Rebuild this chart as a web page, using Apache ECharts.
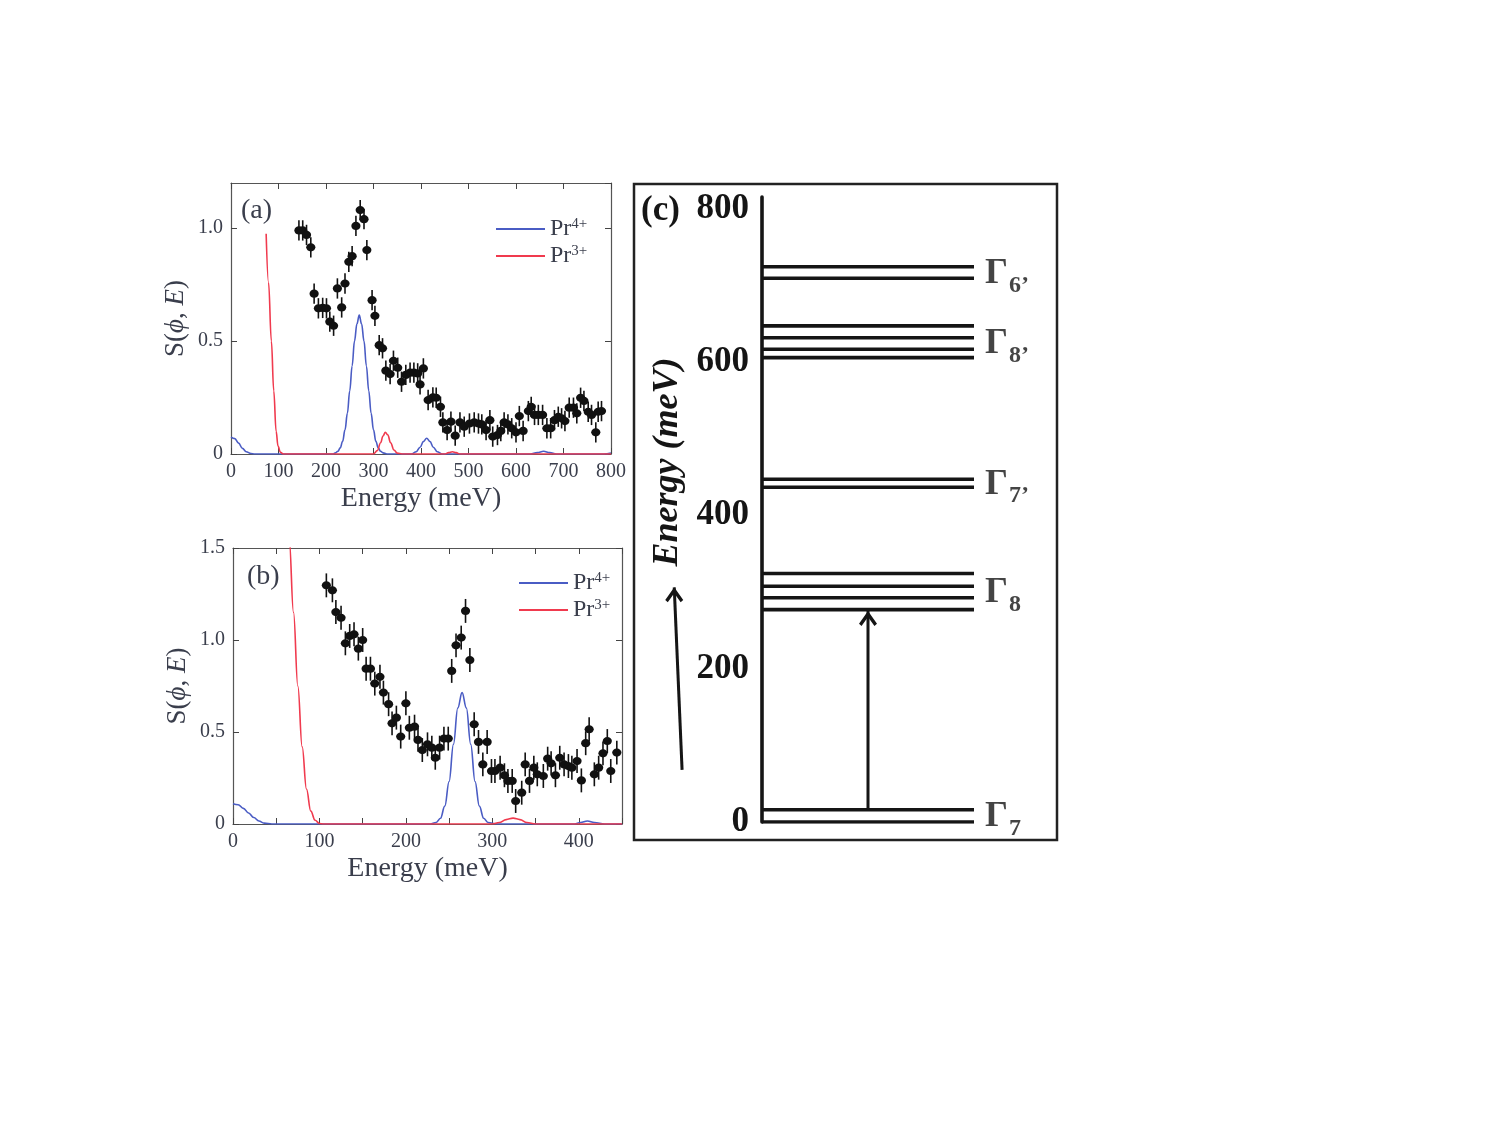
<!DOCTYPE html>
<html>
<head>
<meta charset="utf-8">
<script src="https://cdn.jsdelivr.net/npm/echarts@6/dist/echarts.min.js"></script>
<style>
html, body { margin: 0; background: #fff; }
#main { width: 1500px; height: 1125px; }
</style>
</head>
<body>
<div id="main"></div>
<script>
// ---- panel (a): measured points [energy meV, S] ----
var pointsA = [
  [143,0.99],[151,0.99],[159,0.97],[168,0.915],[175,0.71],[184,0.645],[193,0.647],[201,0.645],
  [208,0.586],[216,0.568],[224,0.733],[233,0.649],[240,0.755],[248,0.851],[255,0.876],[263,1.01],
  [272,1.08],[280,1.04],[286,0.903],[297,0.681],[303,0.612],[312,0.482],[319,0.468],[326,0.369],
  [335,0.354],[342,0.413],[351,0.382],[359,0.32],[368,0.35],[377,0.36],[385,0.36],[393,0.357],
  [398,0.308],[405,0.379],[415,0.239],[425,0.251],[432,0.249],[441,0.209],[446,0.14],[455,0.106],
  [463,0.143],[472,0.081],[482,0.14],[491,0.121],[502,0.135],[512,0.14],[521,0.135],[528,0.131],
  [537,0.106],[545,0.15],[551,0.077],[561,0.084],[568,0.102],[575,0.14],[583,0.131],[591,0.114],
  [600,0.096],[607,0.168],[615,0.102],[626,0.19],[632,0.209],[639,0.173],[647,0.173],[656,0.173],
  [665,0.114],[673,0.114],[681,0.15],[689,0.165],[696,0.158],[703,0.146],[712,0.205],[721,0.205],
  [728,0.18],[736,0.249],[743,0.235],[752,0.187],[759,0.173],[768,0.096],[773,0.187],[780,0.19]
];
var errA = 0.045;
var pr4A = [
  [0,0.075],[8,0.068],[16,0.048],[24,0.025],[32,0.01],[42,0.002],[50,0],[215,0],[220,0.005],
  [225,0.012],[230,0.027],[235,0.056],[240,0.107],[245,0.18],[250,0.28],[255,0.39],[260,0.5],
  [265,0.575],[270,0.615],[275,0.575],[280,0.5],[285,0.39],[290,0.28],[295,0.18],[300,0.107],
  [305,0.056],[310,0.027],[315,0.012],[320,0.005],[330,0],[380,0],[390,0.01],[398,0.03],
  [405,0.055],[412,0.07],[419,0.055],[426,0.03],[434,0.01],[445,0],[630,0],[645,0.006],
  [658,0.012],[671,0.006],[685,0],[785,0],[800,0.004]
];
var pr3A = [
  [74,0.975],[79,0.76],[85,0.5],[90,0.28],[95,0.1],[99,0.035],[104,0.008],[110,0],[300,0],
  [308,0.015],[315,0.05],[320,0.08],[325,0.096],[330,0.085],[336,0.05],[343,0.018],[350,0.004],
  [360,0],[450,0],[458,0.006],[466,0.01],[474,0.006],[482,0],[800,0]
];

// ---- panel (b) ----
var pointsB = [
  [108,1.297],[115,1.27],[119,1.152],[125,1.121],[130,0.982],[135,1.022],[140,1.031],[145,0.953],
  [150,1.0],[154,0.844],[159,0.844],[164,0.763],[170,0.8],[174,0.714],[180,0.651],[184,0.547],
  [189,0.578],[194,0.475],[200,0.656],[204,0.523],[210,0.529],[214,0.457],[219,0.402],[225,0.433],
  [230,0.415],[234,0.36],[239,0.415],[244,0.464],[249,0.464],[253,0.832],[258,0.971],[264,1.013],
  [269,1.158],[274,0.891],[279,0.542],[284,0.446],[289,0.324],[294,0.446],[299,0.288],[303,0.288],
  [309,0.306],[314,0.265],[318,0.234],[323,0.234],[327,0.125],[334,0.17],[338,0.324],[343,0.234],
  [348,0.306],[352,0.27],[359,0.261],[364,0.355],[368,0.33],[373,0.265],[378,0.36],[383,0.324],
  [388,0.315],[392,0.306],[398,0.342],[403,0.237],[408,0.439],[412,0.515],[418,0.27],[423,0.306],
  [428,0.384],[433,0.451],[437,0.288],[444,0.388]
];
var errB = 0.065;
var pr4B = [
  [0,0.11],[6,0.105],[12,0.085],[18,0.06],[24,0.035],[30,0.016],[36,0.005],[45,0],[228,0],
  [235,0.008],[240,0.031],[245,0.097],[250,0.231],[255,0.433],[260,0.63],[265,0.714],[270,0.63],
  [275,0.433],[280,0.231],[285,0.097],[290,0.031],[295,0.008],[305,0],[395,0],[402,0.008],
  [410,0.016],[418,0.008],[430,0],[450,0]
];
var pr3B = [
  [63,1.7],[65,1.55],[70,1.15],[75,0.75],[80,0.42],[85,0.19],[90,0.07],[95,0.02],[100,0.003],
  [105,0],[300,0],[308,0.008],[316,0.024],[324,0.032],[332,0.024],[340,0.008],[350,0],[450,0]
];

// ---- panel (c): level scheme (meV on the drawn axis) ----
var levelNames = ['6\u2019', '8\u2019', '7\u2019', '8', '7'];
var levelGroups = [
  [709, 724],
  [605.5, 616.5, 631.5, 647],
  [436.5, 447],
  [277, 292.5, 307.5, 324],
  [0, 16]
];
var energyTicks = [0, 200, 400, 600, 800];
var arrowUp = [[0.5, 16], [0.5, 275]];
var arrowSide = [[-0.377, 68], [-0.414, 306]];

var serif = 'Liberation Serif, DejaVu Serif, serif';
var ink = '#3a3e4c';
var blue = '#4a5cc4';
var red = '#f03a4e';
var chevron = 'path://M0,9 L6,0 L12,9 L10.3,10.6 L6,4.2 L1.7,10.6 Z';

function plotX(grid, max, interval, labelStep) {
  return [{
    gridIndex: grid, type: 'value', min: 0, max: max, interval: interval,
    axisLine: { onZero: false, lineStyle: { color: '#555', width: 1.2 } },
    axisTick: { inside: true, length: 6, lineStyle: { color: '#444' } },
    axisLabel: { margin: 8, fontFamily: serif, fontSize: 20, color: ink,
      formatter: function (v) { return v % labelStep === 0 ? String(v) : ''; } },
    splitLine: { show: false },
    name: 'Energy (meV)', nameLocation: 'middle', nameGap: 31,
    nameTextStyle: { fontFamily: serif, fontSize: 28, color: ink }
  }, {
    gridIndex: grid, type: 'value', position: 'top', min: 0, max: max, interval: interval,
    axisLine: { onZero: false, lineStyle: { color: '#555', width: 1.2 } },
    axisTick: { inside: true, length: 6, lineStyle: { color: '#444' } },
    axisLabel: { show: false }, splitLine: { show: false }
  }];
}
function plotY(grid, max, showMax) {
  return [{
    gridIndex: grid, type: 'value', min: 0, max: max, interval: 0.5,
    axisLine: { onZero: false, lineStyle: { color: '#555', width: 1.2 } },
    axisTick: { inside: true, length: 6, lineStyle: { color: '#444' } },
    axisLabel: { margin: 8, fontFamily: serif, fontSize: 20, color: ink, showMaxLabel: showMax,
      formatter: function (v) { return v === 0 ? '0' : v.toFixed(1); } },
    splitLine: { show: false },
    name: 'S({i|\u03D5}, {i|E})', nameLocation: 'middle', nameRotate: 90, nameGap: 42,
    nameTextStyle: { fontFamily: serif, fontSize: 27, color: ink,
      rich: { i: { fontFamily: serif, fontSize: 27, fontStyle: 'italic', color: ink } } }
  }, {
    gridIndex: grid, type: 'value', position: 'right', min: 0, max: max, interval: 0.5,
    axisLine: { onZero: false, lineStyle: { color: '#555', width: 1.2 } },
    axisTick: { inside: true, length: 6, lineStyle: { color: '#444' } },
    axisLabel: { show: false }, splitLine: { show: false }
  }];
}

function errSeries(xi, yi, pts, err) {
  return {
    type: 'custom', name: 'data', xAxisIndex: xi, yAxisIndex: yi, data: pts, z: 3,
    renderItem: function (params, api) {
      var x = api.value(0), y = api.value(1);
      var t = api.coord([x, y + err]), b = api.coord([x, y - err]), c = api.coord([x, y]);
      return { type: 'group', children: [
        { type: 'line', shape: { x1: t[0], y1: t[1], x2: b[0], y2: b[1] }, style: { stroke: '#111', lineWidth: 1.6 } },
        { type: 'ellipse', shape: { cx: c[0], cy: c[1], rx: 4.6, ry: 4.1 }, style: { fill: '#111' } }
      ] };
    }
  };
}
function curve(name, xi, yi, data, color) {
  return { type: 'line', name: name, xAxisIndex: xi, yAxisIndex: yi, data: data,
    symbol: 'none', smooth: 0.4, smoothMonotone: 'x', z: 2,
    lineStyle: { color: color, width: 1.6 }, itemStyle: { color: color } };
}
function legendAt(left, top) {
  return { left: left, top: top, orient: 'vertical', icon: 'rect', itemWidth: 49, itemHeight: 2, itemGap: 3,
    data: ['Pr4+', 'Pr3+'],
    formatter: function (n) { return 'Pr{s|' + n.slice(2) + '}'; },
    textStyle: { fontFamily: serif, fontSize: 24, color: ink, lineHeight: 24,
      rich: { s: { fontFamily: serif, fontSize: 15, color: ink, verticalAlign: 'top', lineHeight: 15 } } } };
}
function arrow(pts, xi) {
  return { type: 'line', name: 'arrow', xAxisIndex: xi, yAxisIndex: xi,
    data: [{ value: pts[0], symbol: 'none' },
           { value: pts[1], symbol: chevron, symbolSize: [18, 15], symbolOffset: [0, '50%'] }],
    showSymbol: true, lineStyle: { color: '#151515', width: 3 }, itemStyle: { color: '#151515' } };
}

var series = [
  curve('Pr4+', 0, 0, pr4A, blue), curve('Pr3+', 0, 0, pr3A, red), errSeries(0, 0, pointsA, errA),
  curve('Pr4+', 2, 2, pr4B, blue), curve('Pr3+', 2, 2, pr3B, red), errSeries(2, 2, pointsB, errB)
];

levelGroups.forEach(function (group, gi) {
  group.forEach(function (e) {
    series.push({ type: 'line', name: 'level', xAxisIndex: 4, yAxisIndex: 4, data: [[0, e], [1, e]],
      symbol: 'none', lineStyle: { color: '#151515', width: 3.6 } });
  });
  var mid = group.reduce(function (s, v) { return s + v; }, 0) / group.length;
  series.push({ type: 'scatter', name: 'levelLabel', xAxisIndex: 4, yAxisIndex: 4, data: [[1, mid]],
    symbolSize: 0,
    label: { show: true, position: 'right', distance: 11,
      formatter: '{g|\u0393}{s|' + levelNames[gi] + '}',
      rich: {
        g: { fontFamily: serif, fontWeight: 'bold', fontSize: 36, color: '#151515', verticalAlign: 'top', lineHeight: 34 },
        s: { fontFamily: serif, fontWeight: 'bold', fontSize: 24, color: '#151515', verticalAlign: 'top', lineHeight: 24, padding: [18, 0, 0, 1] }
      } } });
});

series.push(arrow(arrowUp, 4));
series.push(arrow(arrowSide, 5));

var option = {
  animation: false,
  backgroundColor: '#fff',
  title: [
    { text: '(a)', left: 236, top: 192, textStyle: { fontFamily: serif, fontSize: 28, fontWeight: 'normal', color: ink } },
    { text: '(b)', left: 242, top: 558, textStyle: { fontFamily: serif, fontSize: 28, fontWeight: 'normal', color: ink } },
    { text: '(c)', left: 636, top: 188, textStyle: { fontFamily: serif, fontSize: 35, fontWeight: 'bold', color: '#151515' } }
  ],
  legend: [legendAt(491, 212), legendAt(514, 566)],
  grid: [
    { left: 231, top: 183, width: 380, height: 271 },
    { left: 233, top: 548, width: 389, height: 276 },
    { left: 762, top: 197, width: 212, height: 625 },
    { left: 656, top: 197, width: 106, height: 625 }
  ],
  xAxis: plotX(0, 800, 100, 100).concat(plotX(1, 450, 50, 100)).concat([
    { gridIndex: 2, type: 'value', min: 0, max: 1, show: false },
    { gridIndex: 3, type: 'value', min: -0.5, max: 0, show: false }
  ]),
  yAxis: plotY(0, 1.2, false).concat(plotY(1, 1.5, true)).concat([{
    gridIndex: 2, type: 'value', min: 0, max: 815, interval: 200,
    axisLine: { show: true, onZero: false, lineStyle: { color: '#151515', width: 3.6 } },
    axisTick: { show: false }, splitLine: { show: false },
    axisLabel: { margin: 13, fontFamily: serif, fontSize: 35, fontWeight: 'bold', color: '#151515', showMaxLabel: false,
      formatter: function (v) { return energyTicks.indexOf(v) >= 0 ? String(v) : ''; } }
  }, {
    gridIndex: 3, type: 'value', min: 0, max: 815, show: false
  }]),
  graphic: [
    { type: 'rect', shape: { x: 634, y: 184, width: 423, height: 656 },
      style: { fill: 'none', stroke: '#222', lineWidth: 2.5 }, z: 10 },
    { type: 'text', x: 668, y: 462, rotation: Math.PI / 2,
      style: { text: 'Energy (meV)', fontFamily: serif, fontSize: 36, fontWeight: 'bold', fontStyle: 'italic',
        fill: '#151515', align: 'center', verticalAlign: 'middle' } }
  ],
  series: series
};

var chart = echarts.init(document.getElementById('main'));
chart.setOption(option);
</script>
</body>
</html>
